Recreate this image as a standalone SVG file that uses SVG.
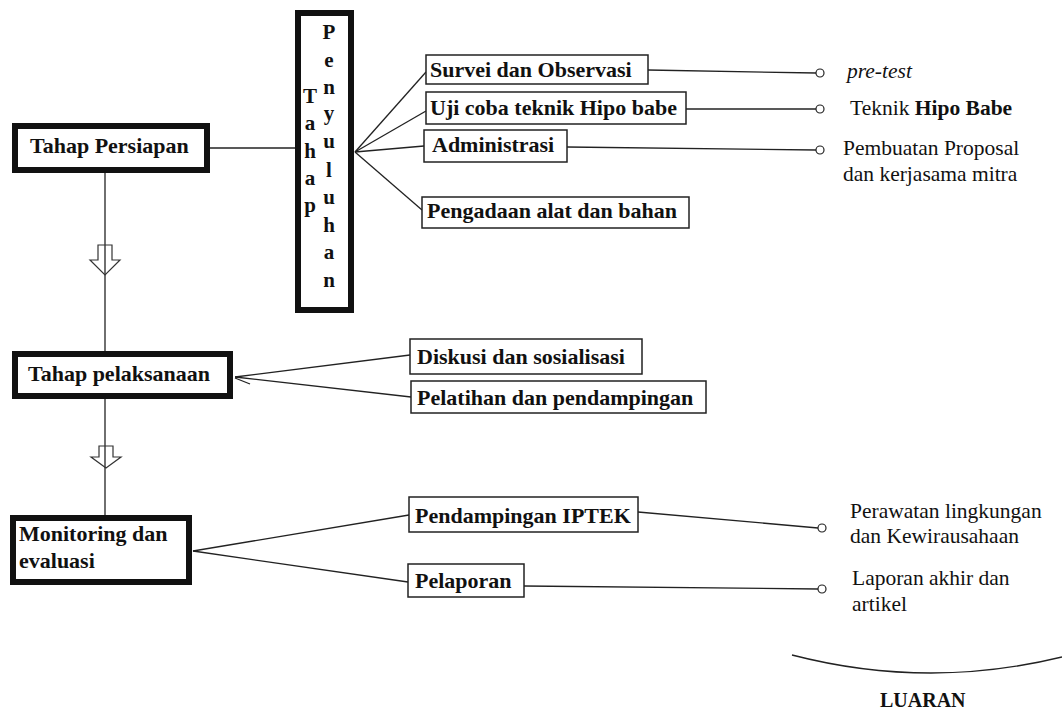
<svg xmlns="http://www.w3.org/2000/svg" width="1062" height="715" viewBox="0 0 1062 715">
<style>
.thick{fill:#fff;stroke:#111;stroke-width:6}
.thin{fill:#fff;stroke:#222;stroke-width:1.5}
.b{font-family:"Liberation Serif","Times New Roman",serif;font-weight:bold;font-size:22px;fill:#111}
.v{font-family:"Liberation Serif","Times New Roman",serif;font-weight:bold;font-size:21px;fill:#111;text-anchor:middle}
.r{font-family:"Liberation Serif","Times New Roman",serif;font-size:21.5px;fill:#111}
.ln{stroke:#222;stroke-width:1.3;fill:none}
.dot{fill:#fff;stroke:#222;stroke-width:1.2}
.arr{fill:none;stroke:#333;stroke-width:1.2}
</style>
<rect width="1062" height="715" fill="#fff"/>
<g id="connectors">
<line class="ln" x1="210" y1="148" x2="295" y2="148"/>
<line class="ln" x1="105" y1="173" x2="105" y2="351"/>
<line class="ln" x1="105" y1="399" x2="105" y2="515"/>
<polygon class="arr" points="98,245 112,245 112,260 120,260 105,275 90,260 98,260"/>
<polygon class="arr" points="99,446 113,446 113,457 121,457 106,468 91,457 99,457"/>
<line class="ln" x1="355" y1="152" x2="426" y2="72"/>
<line class="ln" x1="355" y1="152" x2="426" y2="111"/>
<line class="ln" x1="355" y1="152" x2="424" y2="146"/>
<line class="ln" x1="355" y1="152" x2="422" y2="210"/>
<line class="ln" x1="648" y1="70" x2="816" y2="73"/>
<circle class="dot" cx="820" cy="73" r="4"/>
<line class="ln" x1="686" y1="109" x2="816" y2="109"/>
<circle class="dot" cx="820" cy="109" r="4"/>
<line class="ln" x1="567" y1="147" x2="816" y2="150"/>
<circle class="dot" cx="820" cy="150" r="4"/>
<line class="ln" x1="235" y1="377" x2="410" y2="355"/>
<line class="ln" x1="235" y1="377" x2="411" y2="397"/>
<line class="ln" x1="235" y1="378" x2="250" y2="384"/>
<line class="ln" x1="193" y1="551" x2="409" y2="515"/>
<line class="ln" x1="193" y1="551" x2="408" y2="582"/>
<line class="ln" x1="638" y1="512" x2="818" y2="528"/>
<circle class="dot" cx="822" cy="528" r="4"/>
<line class="ln" x1="524" y1="586" x2="818" y2="589"/>
<circle class="dot" cx="822" cy="589" r="4"/>
<path class="ln" d="M792,655 Q927,690 1062,657"/>
</g>
<g id="tahap-persiapan">
<rect class="thick" x="15" y="126" width="192" height="44"/>
<text class="b" x="30" y="153">Tahap Persiapan</text>
</g>
<g id="tahap-penyuluhan">
<rect class="thick" x="298" y="13" width="53" height="297"/>
<text class="v" x="310" y="103">T</text>
<text class="v" x="310" y="130">a</text>
<text class="v" x="310" y="158">h</text>
<text class="v" x="310" y="185">a</text>
<text class="v" x="310" y="212">p</text>
<text class="v" x="329" y="39">P</text>
<text class="v" x="329" y="67">e</text>
<text class="v" x="329" y="94">n</text>
<text class="v" x="329" y="120">y</text>
<text class="v" x="329" y="148">u</text>
<text class="v" x="329" y="177">l</text>
<text class="v" x="329" y="204">u</text>
<text class="v" x="329" y="232">h</text>
<text class="v" x="329" y="259">a</text>
<text class="v" x="329" y="287">n</text>
</g>
<g id="survei">
<rect class="thin" x="426" y="55" width="222" height="29"/>
<text class="b" x="430" y="77">Survei dan Observasi</text>
</g>
<g id="uji-coba">
<rect class="thin" x="426" y="92" width="260" height="32"/>
<text class="b" x="430" y="115">Uji coba teknik Hipo babe</text>
</g>
<g id="administrasi">
<rect class="thin" x="424" y="130" width="143" height="32"/>
<text class="b" x="432" y="152">Administrasi</text>
</g>
<g id="pengadaan">
<rect class="thin" x="422" y="197" width="267" height="31"/>
<text class="b" x="427" y="218">Pengadaan alat dan bahan</text>
</g>
<g id="pre-test">
<text class="r" x="847" y="78" font-style="italic">pre-test</text>
</g>
<g id="teknik-hipo-babe">
<text class="r" x="850" y="115">Teknik <tspan font-weight="bold">Hipo Babe</tspan></text>
</g>
<g id="pembuatan-proposal">
<text class="r" x="843" y="155">Pembuatan Proposal</text>
<text class="r" x="843" y="181">dan kerjasama mitra</text>
</g>
<g id="tahap-pelaksanaan">
<rect class="thick" x="15" y="354" width="215" height="42"/>
<text class="b" x="28" y="381">Tahap pelaksanaan</text>
</g>
<g id="diskusi">
<rect class="thin" x="410" y="339" width="232" height="35"/>
<text class="b" x="417" y="364">Diskusi dan sosialisasi</text>
</g>
<g id="pelatihan">
<rect class="thin" x="411" y="381" width="295" height="32"/>
<text class="b" x="417" y="405">Pelatihan dan pendampingan</text>
</g>
<g id="monitoring">
<rect class="thick" x="13" y="518" width="176" height="64"/>
<text class="b" x="19" y="541">Monitoring dan</text>
<text class="b" x="19" y="568">evaluasi</text>
</g>
<g id="pendampingan-iptek">
<rect class="thin" x="409" y="497" width="229" height="35"/>
<text class="b" x="415" y="523">Pendampingan IPTEK</text>
</g>
<g id="pelaporan">
<rect class="thin" x="408" y="564" width="116" height="33"/>
<text class="b" x="415" y="588">Pelaporan</text>
</g>
<g id="perawatan">
<text class="r" x="850" y="518">Perawatan lingkungan</text>
<text class="r" x="850" y="543">dan Kewirausahaan</text>
</g>
<g id="laporan-akhir">
<text class="r" x="852" y="585">Laporan akhir dan</text>
<text class="r" x="852" y="611">artikel</text>
</g>
<g id="luaran">
<text class="b" x="880" y="707" style="font-size:20px">LUARAN</text>
</g>
</svg>
